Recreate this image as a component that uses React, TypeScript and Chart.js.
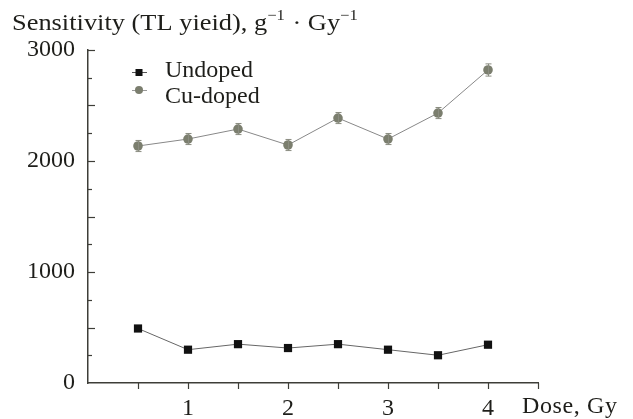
import React, { useEffect, useRef } from "react";
import { Chart, registerables } from "chart.js";

Chart.register(...registerables);

const doses = [0.5, 1, 1.5, 2, 2.5, 3, 3.5, 4];
const undoped = [491, 300, 350, 315, 350, 300, 250, 345];
const cuDoped = [2135, 2198, 2288, 2144, 2387, 2198, 2432, 2820];
const cuErr = [50, 50, 50, 50, 50, 50, 50, 55];
const yTickLabels = [0, 1000, 2000, 3000];
const xTickLabels = [1, 2, 3, 4];
const seriesNames = ["Undoped", "Cu-doped"];

const FONT = "'Liberation Serif', 'Times New Roman', serif";
const FS = 24;
const TEXT = "#1e1e1a";
const AXIS = "#3e3e38";
const CU = "#7b7e6e";

function fitText(ctx: any, t: string, x: number, y: number, w: number) {
  ctx.letterSpacing = "0px";
  const nat = ctx.measureText(t).width;
  const ls = Math.max(0, (w - nat) / Math.max(1, t.length - 1));
  ctx.letterSpacing = `${ls}px`;
  ctx.fillText(t, x, y);
  ctx.letterSpacing = "0px";
}

const decorPlugin = {
  id: "decor",
  afterDatasetsDraw(chart: any) {
    const { ctx, scales } = chart;
    const xs = scales.x;
    const ys = scales.y;
    ctx.save();
    ctx.strokeStyle = "#8a8c80";
    ctx.lineWidth = 1;
    doses.forEach((d, i) => {
      const px = Math.round(xs.getPixelForValue(d)) + 0.5;
      const top = ys.getPixelForValue(cuDoped[i] + cuErr[i]);
      const bot = ys.getPixelForValue(cuDoped[i] - cuErr[i]);
      ctx.beginPath();
      ctx.moveTo(px, top);
      ctx.lineTo(px, bot);
      ctx.moveTo(px - 3, top);
      ctx.lineTo(px + 3, top);
      ctx.moveTo(px - 3, bot);
      ctx.lineTo(px + 3, bot);
      ctx.stroke();
    });
    ctx.restore();
  },
  afterDraw(chart: any) {
    const { ctx, scales } = chart;
    const xs = scales.x;
    const ys = scales.y;
    ctx.save();
    ctx.strokeStyle = AXIS;
    ctx.lineWidth = 1.2;
    const x0 = xs.left;
    for (let v = 250; v <= 3000; v += 250) {
      const py = Math.round(ys.getPixelForValue(v)) + 0.5;
      const len = v % 500 === 0 ? 7 : 4;
      ctx.beginPath();
      ctx.moveTo(x0, py);
      ctx.lineTo(x0 + len, py);
      ctx.stroke();
    }
    const y0 = ys.bottom;
    for (let v = 0.5; v <= 4.5001; v += 0.5) {
      const px = Math.round(xs.getPixelForValue(v)) + 0.5;
      ctx.beginPath();
      ctx.moveTo(px, y0);
      ctx.lineTo(px, y0 + 6);
      ctx.stroke();
    }
    // title with superscripts, slightly stretched horizontally
    ctx.fillStyle = TEXT;
    ctx.textBaseline = "alphabetic";
    ctx.textAlign = "left";
    const big = `${FS}px ${FONT}`;
    const small = `15px ${FONT}`;
    ctx.save();
    ctx.translate(12, 30);
    ctx.scale(1.1, 1);
    const parts: [string, boolean][] = [
      ["Sensitivity (TL yieid), g", false],
      ["\u22121", true],
      [" \u00B7 Gy", false],
      ["\u22121", true],
    ];
    let tx = 0;
    parts.forEach(([t, sup]) => {
      ctx.font = sup ? small : big;
      ctx.fillText(t, tx, sup ? -10 : 0);
      tx += ctx.measureText(t).width + (sup ? 1 : 0);
    });
    ctx.restore();
    // x axis title
    ctx.font = big;
    fitText(ctx, "Dose, Gy", 522, 413, 95);
    // legend
    const lx = 139;
    const markerRows = [72, 90];
    const textRows = [77, 103];
    ctx.lineWidth = 1;
    markerRows.forEach((ry, i) => {
      ctx.strokeStyle = i === 0 ? "#555" : "#999";
      ctx.beginPath();
      ctx.moveTo(lx - 7, ry + 0.5);
      ctx.lineTo(lx + 8, ry + 0.5);
      ctx.stroke();
      if (i === 0) {
        ctx.fillStyle = "#111";
        ctx.fillRect(lx - 3.5, ry - 3, 7, 7);
      } else {
        ctx.fillStyle = CU;
        ctx.beginPath();
        ctx.arc(lx, ry, 4, 0, Math.PI * 2);
        ctx.fill();
      }
      ctx.fillStyle = TEXT;
      ctx.font = big;
      ctx.fillText(seriesNames[i], 165, textRows[i]);
    });
    ctx.restore();
  },
};

export default function App() {
  const ref = useRef<HTMLCanvasElement>(null);
  useEffect(() => {
    document.body.style.margin = "0";
    const chart = new Chart(ref.current!, {
      type: "line",
      data: {
        datasets: [
          {
            label: seriesNames[0],
            data: doses.map((d, i) => ({ x: d, y: undoped[i] })),
            borderColor: "#666",
            borderWidth: 1,
            pointStyle: "rect",
            pointRadius: 5.8,
            pointBackgroundColor: "#111",
            pointBorderWidth: 0,
          },
          {
            label: seriesNames[1],
            data: doses.map((d, i) => ({ x: d, y: cuDoped[i] })),
            borderColor: "#888",
            borderWidth: 1,
            pointStyle: "circle",
            pointRadius: 4.8,
            pointBackgroundColor: CU,
            pointBorderWidth: 0,
          },
        ],
      },
      options: {
        animation: false,
        responsive: false,
        layout: { padding: { top: 50, right: 95, left: 0, bottom: 0 } },
        plugins: { legend: { display: false }, tooltip: { enabled: false } },
        scales: {
          x: {
            type: "linear",
            min: 0,
            max: 4.5,
            grid: { display: false },
            border: { display: true, color: AXIS, width: 1.5 },
            afterFit: (s: any) => { s.height = 36; },
            afterBuildTicks: (s: any) => { s.ticks = xTickLabels.map((v) => ({ value: v })); },
            ticks: {
              padding: 3,
              maxRotation: 0,
              autoSkip: false,
              color: TEXT,
              font: { family: FONT, size: FS },
              callback: (v: any) => String(v),
            },
          },
          y: {
            type: "linear",
            min: 0,
            max: 3000,
            grid: { display: false },
            border: { display: true, color: AXIS, width: 1.5 },
            afterFit: (s: any) => { s.width = 88; },
            afterBuildTicks: (s: any) => { s.ticks = yTickLabels.map((v) => ({ value: v })); },
            ticks: {
              padding: 5,
              color: TEXT,
              font: { family: FONT, size: FS },
              callback: (v: any) => String(v),
            },
          },
        },
      },
      plugins: [decorPlugin],
    } as any);
    return () => chart.destroy();
  }, []);
  return (
    <div style={{ position: "absolute", left: 0, top: 0, width: 633, height: 419, background: "#fff" }}>
      <canvas ref={ref} width={633} height={419} />
    </div>
  );
}
